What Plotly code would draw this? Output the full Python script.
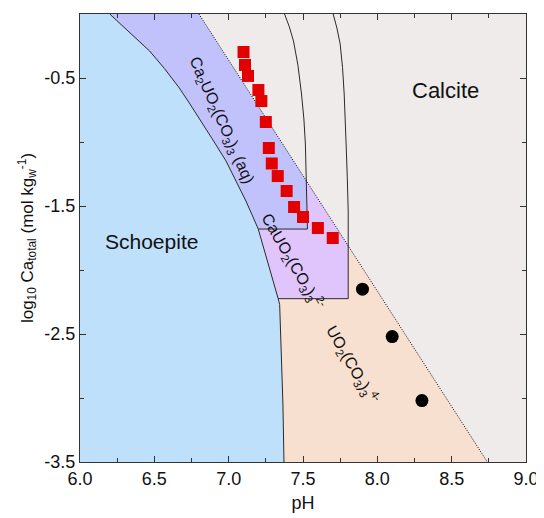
import numpy as np
import plotly.graph_objects as go

# ---------------- data ----------------
# Schoepite / aqueous-species boundary (pH, log10 Ca_total)
schoepite_ph = [6.200, 6.334, 6.468, 6.568, 6.668, 6.735, 6.802, 6.888, 6.982, 7.049,
                7.116, 7.156, 7.199, 7.333, 7.343, 7.354, 7.365, 7.372]
schoepite_logca = [0.0, -0.141, -0.289, -0.426, -0.578, -0.695, -0.8125, -0.973, -1.148, -1.301,
                   -1.461, -1.566, -1.68, -2.224, -2.27, -2.656, -3.047, -3.5]

# Ca2UO2(CO3)3(aq) / CaUO2(CO3)3^2- boundary
left_ph = [7.376, 7.408, 7.436, 7.466, 7.490, 7.506, 7.516, 7.523, 7.530]
left_logca = [0.0, -0.10, -0.211, -0.40, -0.625, -0.82, -1.016, -1.32, -1.68]

# CaUO2(CO3)3^2- / UO2(CO3)3^4- boundary
right_ph = [7.703, 7.728, 7.750, 7.766, 7.777, 7.785, 7.790, 7.798, 7.804, 7.804]
right_logca = [0.0, -0.11, -0.234, -0.42, -0.625, -0.82, -1.016, -1.28, -1.539, -2.224]

# Horizontal boundaries
ca2_bottom_logca = -1.68
cauo2_bottom_logca = -2.224

# Calcite saturation (dotted line)
calcite_ph = [6.80, 8.74]
calcite_logca = [0.0, -3.5]

# Experimental points
sq_ph = [7.10, 7.11, 7.13, 7.20, 7.22, 7.25, 7.27, 7.29, 7.33, 7.39, 7.44, 7.50, 7.60, 7.70]
sq_logca = [-0.297, -0.398, -0.484, -0.594, -0.680, -0.844, -1.047, -1.168, -1.266,
            -1.383, -1.508, -1.586, -1.672, -1.750]
dot_ph = [7.90, 8.10, 8.30]
dot_logca = [-2.15, -2.52, -3.02]

x_ticks = [6.0, 6.5, 7.0, 7.5, 8.0, 8.5, 9.0]
x_tick_labels = ["6.0", "6.5", "7.0", "7.5", "8.0", "8.5", "9.0"]
y_ticks = [-3.5, -2.5, -1.5, -0.5]
y_tick_labels = ["-3.5", "-2.5", "-1.5", "-0.5"]

# ---------------- helpers ----------------
def x_at(xs, ys, y):
    return float(np.interp(-y, -np.array(ys), np.array(xs)))


def curve(xs, ys, y_from, y_to):
    """Points of a boundary (monotonic in y) between two y values, in travel order."""
    lo, hi = min(y_from, y_to), max(y_from, y_to)
    pts = [(x_at(xs, ys, y_from), y_from)]
    inner = [(x, y) for x, y in zip(xs, ys) if lo < y < hi]
    if y_from < y_to:
        inner = inner[::-1]
    pts += inner
    pts.append((x_at(xs, ys, y_to), y_to))
    return pts


def calc_x(y):
    return x_at(calcite_ph, calcite_logca, y)


def intersect(xs, ys):
    grid = np.linspace(0, -3.5, 35001)
    f = np.array([x_at(xs, ys, g) - calc_x(g) for g in grid])
    idx = np.where(np.sign(f[:-1]) != np.sign(f[1:]))[0]
    i = idx[0] if len(idx) else 0
    return float(grid[i])


yL = intersect(left_ph, left_logca)
yR = intersect(right_ph, right_logca)

schoe_poly = [(6.0, 0.0)] + curve(schoepite_ph, schoepite_logca, 0.0, -3.5) + [(6.0, -3.5)]
ca2_poly = (curve(schoepite_ph, schoepite_logca, 0.0, ca2_bottom_logca)
            + curve(left_ph, left_logca, ca2_bottom_logca, yL)
            + [(calc_x(0.0), 0.0)])
cauo2_poly = (curve(schoepite_ph, schoepite_logca, ca2_bottom_logca, cauo2_bottom_logca)
              + curve(right_ph, right_logca, cauo2_bottom_logca, yR)
              + curve(left_ph, left_logca, yL, ca2_bottom_logca))
uo2_poly = (curve(schoepite_ph, schoepite_logca, cauo2_bottom_logca, -3.5)
            + [(calc_x(-3.5), -3.5)]
            + curve(right_ph, right_logca, yR, cauo2_bottom_logca))
calcite_poly = [(calc_x(0.0), 0.0), (9.0, 0.0), (9.0, -3.5), (calc_x(-3.5), -3.5)]

fig = go.Figure()


def add_region(poly, color):
    xs = [p[0] for p in poly] + [poly[0][0]]
    ys = [p[1] for p in poly] + [poly[0][1]]
    fig.add_trace(go.Scatter(x=xs, y=ys, mode="lines", fill="toself", fillcolor=color,
                             line=dict(width=0), hoverinfo="skip", showlegend=False))


add_region(calcite_poly, "#efebea")
add_region(schoe_poly, "#bfe0fb")
add_region(ca2_poly, "#c1c1fb")
add_region(cauo2_poly, "#dfc5fb")
add_region(uo2_poly, "#f8e0d1")

LINE = dict(color="#2a2a2a", width=1)


def add_line(xs, ys, line):
    fig.add_trace(go.Scatter(x=xs, y=ys, mode="lines", line=line,
                             hoverinfo="skip", showlegend=False))


add_line(schoepite_ph, schoepite_logca, LINE)
add_line(left_ph, left_logca, LINE)
add_line(right_ph, right_logca, LINE)
add_line([x_at(schoepite_ph, schoepite_logca, ca2_bottom_logca), x_at(left_ph, left_logca, ca2_bottom_logca)],
         [ca2_bottom_logca, ca2_bottom_logca], LINE)
add_line([x_at(schoepite_ph, schoepite_logca, cauo2_bottom_logca), x_at(right_ph, right_logca, cauo2_bottom_logca)],
         [cauo2_bottom_logca, cauo2_bottom_logca], LINE)
add_line(calcite_ph, calcite_logca, dict(color="#000000", width=1, dash="1px,1.5px"))

fig.add_trace(go.Scatter(x=sq_ph, y=sq_logca, mode="markers",
                         marker=dict(symbol="square", size=12, color="#e30000",
                                     line=dict(width=0)),
                         showlegend=False))
fig.add_trace(go.Scatter(x=dot_ph, y=dot_logca, mode="markers",
                         marker=dict(symbol="circle", size=13, color="#000000",
                                     line=dict(width=0)),
                         showlegend=False))

FONT = "Liberation Sans, Arial, sans-serif"

annotations = [
    dict(x=8.46, y=-0.60, text="Calcite", font=dict(size=22)),
    dict(x=6.481, y=-1.78, text="Schoepite", font=dict(size=21)),
    dict(x=6.950, y=-0.83, textangle=66,
         text="Ca<sub>2</sub>UO<sub>2</sub>(CO<sub>3</sub>)<sub>3</sub> (aq)", font=dict(size=16)),
    dict(x=7.43, y=-1.93, textangle=60,
         text="CaUO<sub>2</sub>(CO<sub>3</sub>)<sub>3</sub><sup>2-</sup>", font=dict(size=16)),
    dict(x=7.835, y=-2.74, textangle=60,
         text="UO<sub>2</sub>(CO<sub>3</sub>)<sub>3</sub><sup>4-</sup>", font=dict(size=16)),
]
for a in annotations:
    a.update(xref="x", yref="y", showarrow=False, xanchor="center", yanchor="middle")
    a["font"].update(family=FONT, color="#111111")

axis_common = dict(
    showline=True, linecolor="#333333", linewidth=1, mirror="ticks",
    ticks="inside", ticklen=6, tickwidth=1, tickcolor="#333333",
    showgrid=False, zeroline=False,
    tickfont=dict(family=FONT, size=18, color="#111111"),
)

# The page body adds an 8 px offset, so the figure is sized to fit the 544x518 window.
fig.update_layout(
    width=536, height=510,
    margin=dict(l=72, r=15, t=5, b=56),
    paper_bgcolor="white", plot_bgcolor="#efebea",
    font=dict(family=FONT, size=17, color="#111111"),
    annotations=annotations,
    xaxis=dict(range=[6.0, 9.0], tickmode="array", tickvals=x_ticks, ticktext=x_tick_labels,
               minor=dict(dtick=0.25, tick0=6.0, ticks="inside", ticklen=4, tickcolor="#333333"),
               title=dict(text="pH", font=dict(family=FONT, size=18), standoff=8),
               **axis_common),
    yaxis=dict(range=[-3.5, 0.0], tickmode="array", tickvals=y_ticks, ticktext=y_tick_labels,
               minor=dict(dtick=0.5, tick0=-0.5, ticks="inside", ticklen=4, tickcolor="#333333"),
               title=dict(text="log<sub>10</sub> Ca<sub>total</sub> (mol kg<sub>w</sub><sup>-1</sup>)",
                          font=dict(family=FONT, size=17), standoff=6),
               **axis_common),
)

fig.write_html("out.html")
